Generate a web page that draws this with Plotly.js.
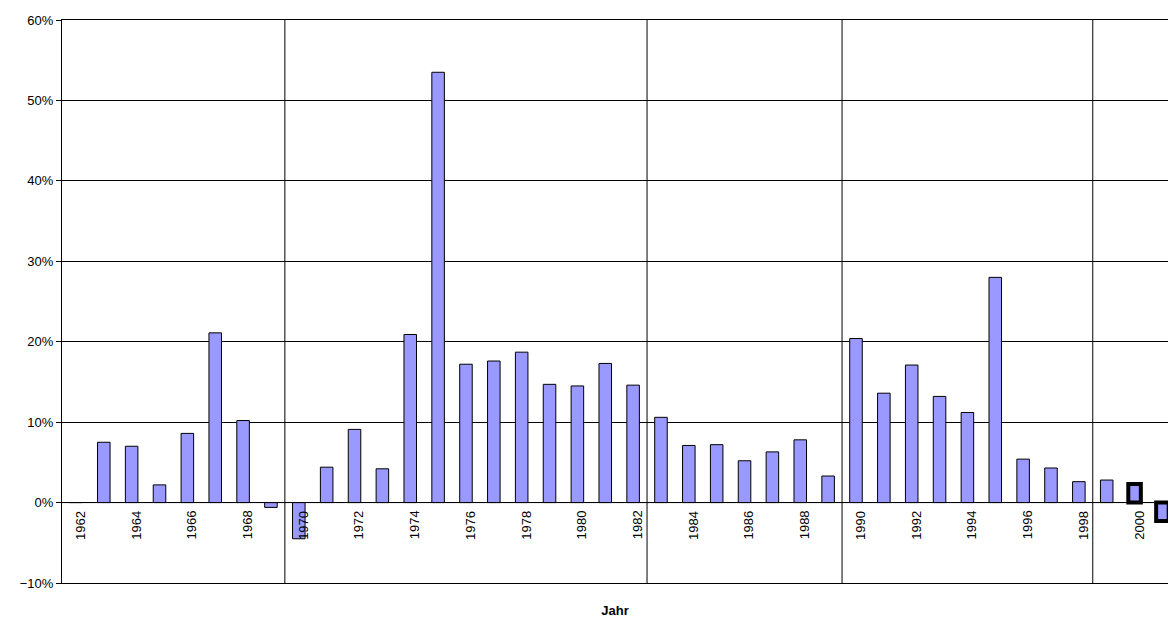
<!DOCTYPE html>
<html>
<head>
<meta charset="utf-8">
<script src="https://cdn.plot.ly/plotly-3.0.1.min.js"></script>
<style>body{margin:0;background:#fff}#plot{width:1168px;height:621px}</style>
</head>
<body>
<div id="plot"></div>
<script>
var years = [];
for (var y = 1962; y <= 2001; y++) years.push(y);
var values = [0, 7.5, 7.0, 2.2, 8.6, 21.1, 10.2, -0.6, -4.5, 4.4,
  9.1, 4.2, 20.9, 53.5, 17.2, 17.6, 18.7, 14.7, 14.5, 17.3,
  14.6, 10.6, 7.1, 7.2, 5.2, 6.3, 7.8, 3.3, 20.4, 13.6,
  17.1, 13.2, 11.2, 28.0, 5.4, 4.3, 2.6, 2.8, 2.3, -2.3];
var labelYears = years.filter(function (y) { return y % 2 === 0; });
var dividers = [1969.5, 1982.5, 1989.5, 1998.5];

var lineW = years.map(function (y) { return y >= 2000 ? 4 : 1; });

var trace = {
  x: years,
  y: values,
  type: "bar",
  marker: { color: "#9999ff", line: { color: "#000", width: lineW } },
  width: 0.45,
  hoverinfo: "x+y"
};

var shapes = dividers.map(function (d) {
  return { type: "line", xref: "x", yref: "paper", x0: d, x1: d, y0: 0, y1: 1,
    line: { color: "#000", width: 1 } };
});
shapes.push({ type: "line", xref: "paper", yref: "y", x0: 0, x1: 1, y0: 0, y1: 0,
  line: { color: "#000", width: 1 } });

var annotations = labelYears.map(function (y) {
  return { x: y, y: 0, xref: "x", yref: "y", text: String(y), showarrow: false,
    textangle: -90, yanchor: "top", yshift: -6, xshift: 4, font: { family: "Arial", size: 13, color: "#000" } };
});

var layout = {
  width: 1168, height: 621,
  margin: { l: 62, r: 0, t: 20, b: 38 },
  paper_bgcolor: "#fff", plot_bgcolor: "#fff",
  showlegend: false,
  font: { family: "Arial", size: 13, color: "#000" },
  xaxis: {
    range: [1961.5, 2001.2], showticklabels: false, showgrid: false, zeroline: false,
    showline: true, mirror: true, linecolor: "#000", ticks: "",
    title: { text: "<b>Jahr</b>", standoff: 22, font: { family: "Arial", size: 13 } }
  },
  yaxis: {
    range: [-10, 60], dtick: 10, ticksuffix: "%", gridcolor: "#000", gridwidth: 1,
    zeroline: false, showline: true, mirror: true, linecolor: "#000",
    ticks: "outside", ticklen: 5, tickcolor: "#000"
  },
  shapes: shapes,
  annotations: annotations
};

Plotly.newPlot("plot", [trace], layout, { staticPlot: true });
</script>
</body>
</html>
